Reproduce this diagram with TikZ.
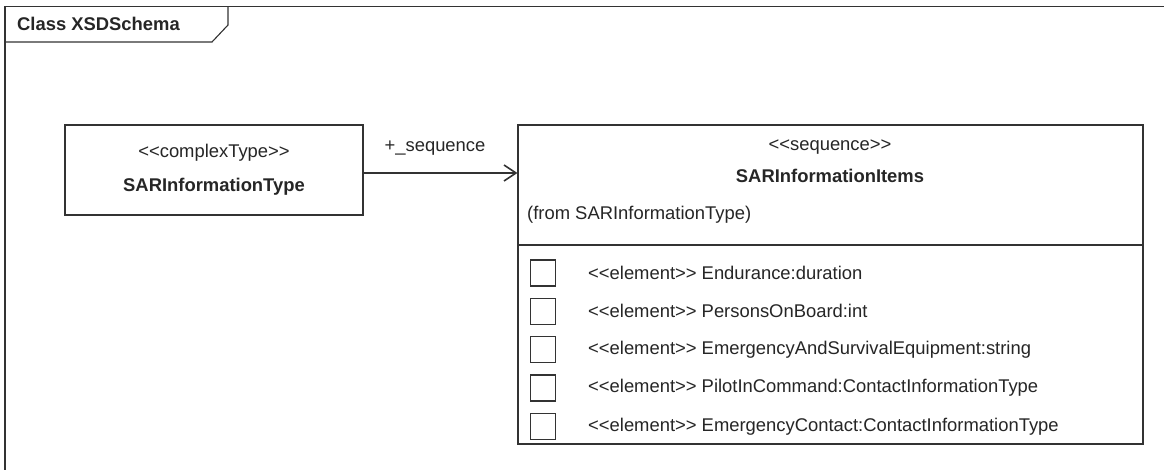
\documentclass[tikz,border=0pt]{standalone}
\usepackage{fontspec}
\setmainfont{Liberation Sans}
\usetikzlibrary{arrows.meta}
\newcommand\dlt{<\kern0pt<}
\newcommand\dgt{>\kern0pt>}
\begin{document}
\begin{tikzpicture}[x=1pt,y=-1pt,
  line/.style={draw=black!80,line width=1.1pt},
  txt/.style={inner sep=0pt,text=black!85,font=\fontsize{18.4}{20}\selectfont},
  btxt/.style={txt,font=\fontsize{18.4}{20}\selectfont\bfseries},
  chk/.style={line,minimum width=25pt,minimum height=26pt,inner sep=0pt},
  arr/.style={line,-{Straight Barb[length=12pt,width=16pt,line width=1.6pt]}}]
\useasboundingbox (0,0) rectangle (1164,470);
\fill[white] (0,0) rectangle (1164,470);
% frame
\draw[line] (5,470) -- (5,6.5) -- (1164,6.5);
\draw[line] (5,42) -- (212,42) -- (228,25) -- (228,6.5);
\node[btxt,anchor=west] (title) at (17,24) {Class XSDSchema};
% left class
\node[line,minimum width=298pt,minimum height=90pt,inner sep=0pt] (ct) at (214,170) {};
\node[txt] (ctst) at (214,153) {\dlt complexType\dgt};
\node[btxt] (ctnm) at (214,187) {SARInformationType};
% right class
\node[line,minimum width=625pt,minimum height=319pt,inner sep=0pt] (seq) at (830.5,284.5) {};
\draw[line] (seq.west |- 0,245) -- (seq.east |- 0,245);
\node[txt] (seqst) at (830,147) {\dlt sequence\dgt};
\node[btxt] (seqnm) at (830,176) {SARInformationItems};
\node[txt,anchor=west] (from) at (527,215) {(from SARInformationType)};
% elements
\foreach \i/\y/\t in {1/273/{\dlt element\dgt{} Endurance:duration},
                      2/311.3/{\dlt element\dgt{} PersonsOnBoard:int},
                      3/349.6/{\dlt element\dgt{} EmergencyAndSurvivalEquipment:string},
                      4/388/{\dlt element\dgt{} PilotInCommand:ContactInformationType},
                      5/426.3/{\dlt element\dgt{} EmergencyContact:ContactInformationType}}{
  \node[chk] (c\i) at (543,\y) {};
  \node[txt,anchor=west] (e\i) at (588,\y) {\t};
}
% association
\draw[arr] ([yshift=-3pt]ct.east) -- ([yshift=-3pt]ct.east -| seq.west);
\node[txt] (lab) at (435,148) {+\_sequence};
\end{tikzpicture}
\end{document}
